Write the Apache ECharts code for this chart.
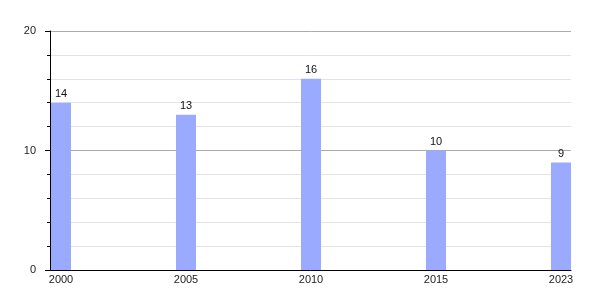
<!DOCTYPE html>
<html><head><meta charset="utf-8">
<script src="https://cdn.jsdelivr.net/npm/echarts@6/dist/echarts.min.js"></script>
<style>html,body{margin:0;padding:0;background:#fff}#c{width:600px;height:300px}</style>
</head><body><div id="c"></div>
<script>
var years = ['2000','2005','2010','2015','2023'];
var values = [14, 13, 16, 10, 9];
var yTicks = [0, 10, 20];

var chart = echarts.init(document.getElementById('c'), null, {renderer:'canvas'});
var font = 'Liberation Sans, Arial, sans-serif';
chart.setOption({
  animation:false,
  backgroundColor:'#fff',
  grid:{left:50, right:29, top:31, bottom:30, containLabel:false},
  xAxis:{
    type:'value', min:-0.088, max:4.08,
    axisLine:{show:true, onZero:false, lineStyle:{color:'#000', width:1}},
    axisTick:{show:false},
    splitLine:{show:false},
    axisLabel:{customValues:[0,1,2,3,4], formatter:function(v){return years[Math.round(v)];},
      color:'#222', fontSize:11, fontFamily:font, margin:4, showMinLabel:true, showMaxLabel:true}
  },
  yAxis:{
    type:'value', min:0, max:20, interval:10,
    axisLine:{show:true, onZero:false, lineStyle:{color:'#000', width:1}},
    axisTick:{show:true, inside:false, length:5, lineStyle:{color:'#000'}},
    minorTick:{show:true, splitNumber:5, length:3, lineStyle:{color:'#000'}},
    splitLine:{show:true, lineStyle:{color:'#aaaaaa', width:1}},
    minorSplitLine:{show:true, lineStyle:{color:'#e3e3e3', width:1}},
    axisLabel:{customValues:yTicks, color:'#222', fontSize:11, fontFamily:font, margin:14}
  },
  series:[{
    type:'bar',
    data: values.map(function(v,i){return [i, v];}),
    barWidth:20,
    itemStyle:{color:'#99aaff'},
    label:{show:true, position:'top', color:'#111', fontSize:11, fontFamily:font, distance:3}
  }]
});
</script></body></html>
